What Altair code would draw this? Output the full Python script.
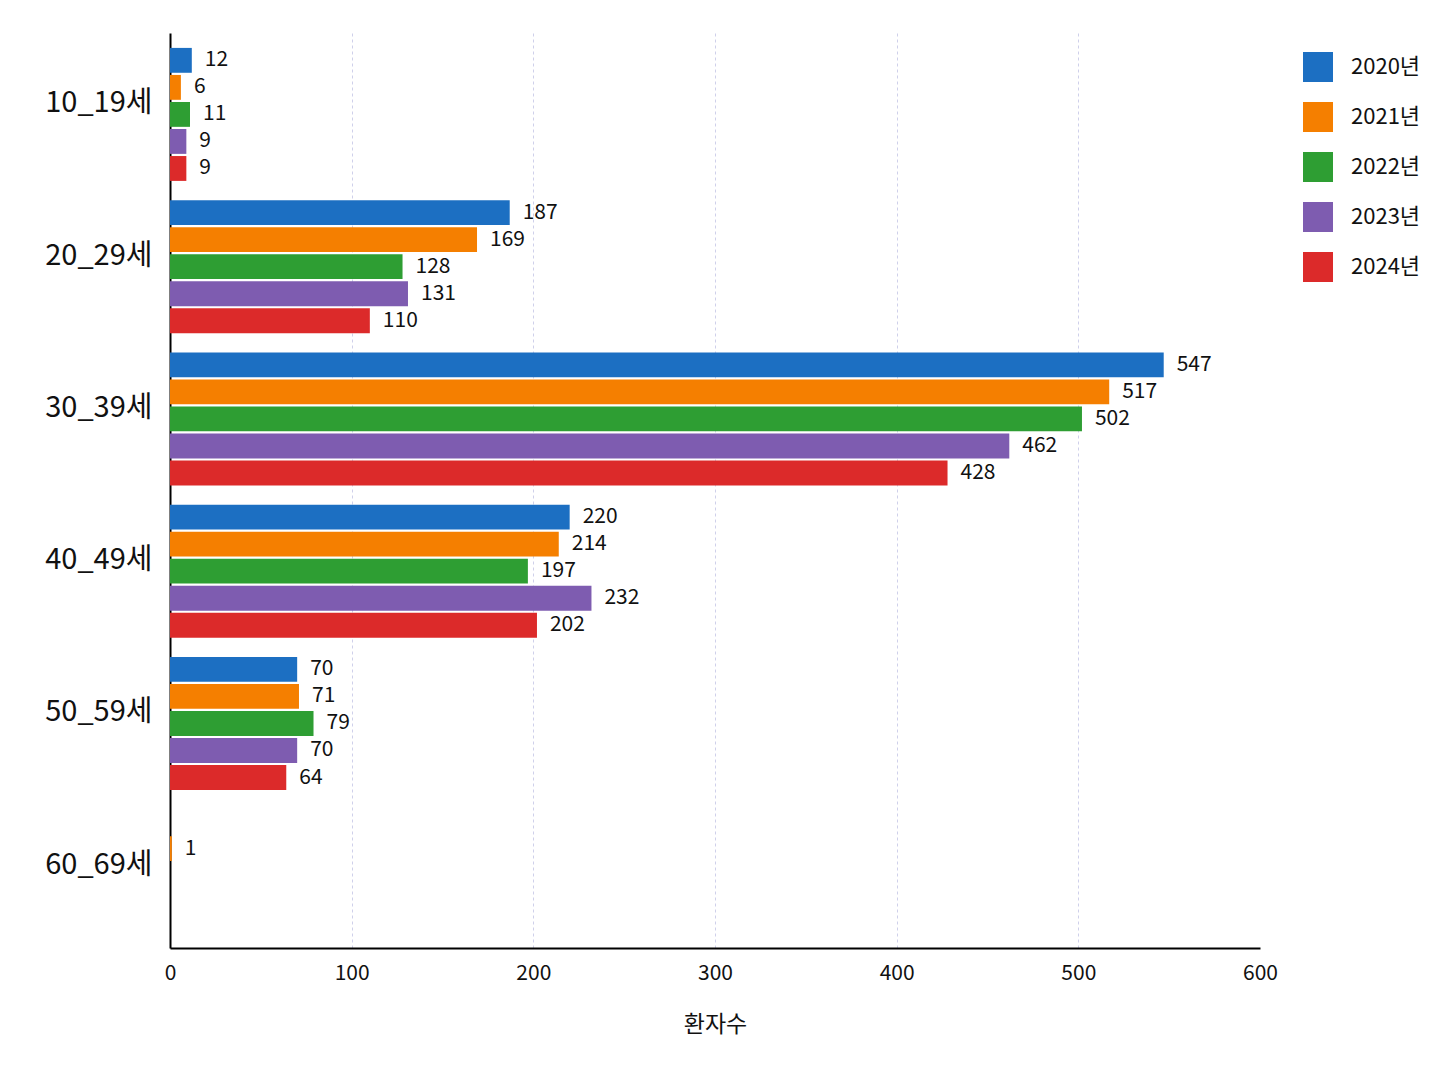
import altair as alt
import pandas as pd

ages = ["10_19세", "20_29세", "30_39세", "40_49세", "50_59세", "60_69세"]
years = ["2020년", "2021년", "2022년", "2023년", "2024년"]
colors = ["#1c6fc2", "#f57f00", "#2e9e33", "#7e5cb0", "#dc2a2a"]

v2020 = [12, 187, 547, 220, 70, None]
v2021 = [6, 169, 517, 214, 71, 1]
v2022 = [11, 128, 502, 197, 79, None]
v2023 = [9, 131, 462, 232, 70, None]
v2024 = [9, 110, 428, 202, 64, None]

rows = []
for yr, vals in zip(years, [v2020, v2021, v2022, v2023, v2024]):
    for a, v in zip(ages, vals):
        if v is not None:
            rows.append({"age": a, "year": yr, "count": v})
df = pd.DataFrame(rows)

FONT = "Noto Sans CJK KR"

y_scale = alt.Scale(domain=ages, paddingInner=0.1265, paddingOuter=0.068, align=0.72)
y_enc = alt.Y("age:N", sort=ages, scale=y_scale,
              axis=alt.Axis(title=None, labelFontSize=29, labelColor="#111", labelPadding=18,
                            ticks=False, domainColor="#000", domainWidth=2, labelOffset=-11,
                            labelFont=FONT))
yoff = alt.YOffset("year:N", sort=years,
                   scale=alt.Scale(domain=years, paddingInner=0.08, paddingOuter=0.0))
x_enc = alt.X("count:Q",
              scale=alt.Scale(domain=[0, 600], nice=False),
              axis=alt.Axis(title="환자수", values=[0, 100, 200, 300, 400, 500, 600],
                            titleFontSize=23, titleFontWeight="normal", titleColor="#111",
                            titlePadding=30, labelFontSize=21, labelColor="#111",
                            labelPadding=14, labelFlush=False, ticks=False,
                            domainColor="#000", domainWidth=2,
                            grid=True, gridColor="#cfd0ea", gridDash=[3, 3], gridWidth=1,
                            gridOpacity={"condition": {"test": "datum.value == 600 || datum.value == 0", "value": 0}, "value": 1},
                            labelFont=FONT, titleFont=FONT))

color = alt.Color("year:N", sort=years,
                  scale=alt.Scale(domain=years, range=colors),
                  legend=alt.Legend(title=None, orient="none", legendX=1133, legendY=19,
                                    symbolType="square", symbolSize=900, symbolStrokeWidth=0,
                                    symbolOpacity=1, labelFontSize=22, labelColor="#111",
                                    labelOffset=18, rowPadding=20, labelFont=FONT))

bars = alt.Chart(df).mark_bar(opacity=1).encode(
    x=x_enc, y=y_enc, yOffset=yoff, color=color
)
labels = alt.Chart(df).mark_text(align="left", baseline="middle", dx=13, fontSize=21,
                                 color="#111", font=FONT).encode(
    x="count:Q", y=alt.Y("age:N", sort=ages), yOffset=alt.YOffset("year:N", sort=years),
    text="count:Q"
)

chart = (bars + labels).properties(
    width=1090, height=915,
    autosize=alt.AutoSizeParams(type="none"),
    padding={"left": 162, "top": 25, "right": 180, "bottom": 130},
).configure(font=FONT).configure_view(strokeWidth=0, stroke="transparent")

chart.save("out.html", embed_options={"renderer": "svg", "actions": False})
